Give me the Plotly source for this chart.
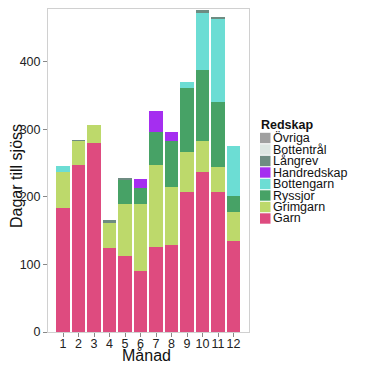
import plotly.graph_objects as go

months = [str(m) for m in range(1, 13)]
series_names = ["Garn", "Grimgarn", "Ryssjor", "Bottengarn", "Handredskap", "Långrev", "Bottentrål", "Övriga"]
garn = [184, 247, 279, 125, 112, 90, 126, 129, 207, 237, 207, 135]
grimgarn = [53, 36, 28, 36, 78, 100, 121, 85, 59, 46, 37, 43]
ryssjor = [0, 0, 0, 0, 36, 23, 49, 68, 95, 105, 96, 24]
bottengarn = [9, 0, 0, 0, 0, 0, 0, 0, 9, 84, 123, 74]
handredskap = [0, 0, 0, 0, 0, 13, 31, 14, 0, 0, 0, 0]
langrev = [0, 1, 0, 5, 2, 0, 0, 0, 0, 5, 3, 0]
bottentral = [0, 0, 0, 0, 0, 0, 0, 0, 0, 0, 0, 0]
ovriga = [0, 0, 0, 0, 0, 0, 0, 0, 0, 0, 0, 0]
colors = ["#DE4B7F", "#BDD96B", "#47A266", "#6CDDD4", "#A52EF0", "#6E8C82", "#DDE6E2", "#A0A0A0"]
y_ticks = [0, 100, 200, 300, 400]

values = [garn, grimgarn, ryssjor, bottengarn, handredskap, langrev, bottentral, ovriga]

fig = go.Figure()
x_num = list(range(1, 13))
for name, vals, col in zip(series_names, values, colors):
    fig.add_trace(go.Bar(x=x_num, y=vals, name=name, marker=dict(color=col, line=dict(width=0)),
                         width=0.87, showlegend=False))

O = 8  # page body margin offset
W, H = 367 - O, 367 - O
L, R, T, B = 48, 249, 9, 332  # reference pixel coords of plot area

def px(X):
    return (X - L) / (R - L)

def py(Y):
    return (B - Y) / (B - T)

font = "Liberation Sans, Arial, sans-serif"
fig.update_layout(
    width=W, height=H, barmode="stack", autosize=False,
    margin=dict(l=L - O, r=367 - R, t=T - O, b=367 - B),
    paper_bgcolor="white", plot_bgcolor="white",
    font=dict(family=font, color="#222222"),
)
fig.update_xaxes(range=[0.03, 13.0], tickmode="array", tickvals=x_num, ticktext=months,
                 ticks="outside", ticklen=4, tickcolor="#888888", showgrid=False, zeroline=False,
                 showline=True, mirror=True, linecolor="#d0d0d0", linewidth=1,
                 ticklabelstandoff=-4,
                 tickfont=dict(size=12.5, color="#222222"))
fig.update_yaxes(range=[0, 478], tickmode="array", tickvals=y_ticks,
                 ticks="outside", ticklen=4, tickcolor="#888888", showgrid=False, zeroline=False,
                 showline=True, mirror=True, linecolor="#d0d0d0", linewidth=1,
                 tickfont=dict(size=12.5, color="#222222"))

ann = [
    dict(text="Månad", x=px(146), y=py(355), xref="paper", yref="paper", showarrow=False,
         font=dict(size=16, family=font, color="#111111"), xanchor="center", yanchor="middle"),
    dict(text="Dagar till sjöss", x=px(16), y=py(176), xref="paper", yref="paper", showarrow=False,
         textangle=-90, font=dict(size=16, family=font, color="#111111"), xanchor="center", yanchor="middle"),
    dict(text="<b>Redskap</b>", x=px(259), y=py(125), xref="paper", yref="paper", showarrow=False,
         font=dict(size=12.5, family=font, color="#111111"), xanchor="left", yanchor="middle"),
]
shapes = []
# legend entries in reverse stack order
leg_items = list(zip(series_names, colors))[::-1]
for i, (name, col) in enumerate(leg_items):
    cy = 138 + i * 11.5
    shapes.append(dict(type="rect", xref="paper", yref="paper",
                       x0=px(260), x1=px(270.5), y0=py(cy + 5.2), y1=py(cy - 5.2),
                       fillcolor=col, line=dict(width=0)))
    ann.append(dict(text=name, x=px(271), y=py(cy), xref="paper", yref="paper", showarrow=False,
                    font=dict(size=12.5, family=font, color="#111111"), xanchor="left", yanchor="middle"))
fig.update_layout(annotations=ann, shapes=shapes)

fig.write_html("out.html")
